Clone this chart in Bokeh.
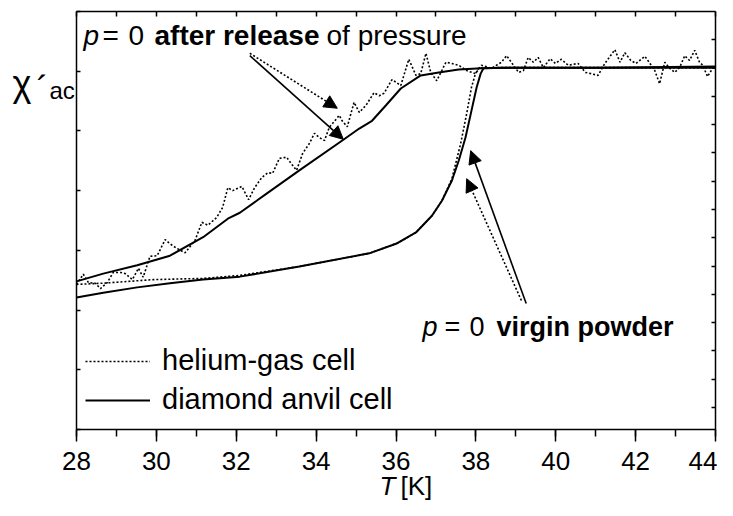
from bokeh.plotting import figure
from bokeh.models import (Range1d, LinearAxis, SingleIntervalTicker, CustomJSTickFormatter,
                          Label, Arrow, NormalHead, Legend, LegendItem)
from bokeh.embed import file_html
from bokeh.resources import INLINE

FONT = "Liberation Sans"

# ---------------- data (T in K, chi' in arbitrary units) ----------------
# p = 0 after release of pressure, diamond anvil cell (solid)
T_rel_dac = [28.0, 28.67, 29.52, 30.34, 31.17, 31.79, 32.09, 32.51, 32.76, 33.58, 34.70,
             35.08, 35.40, 35.75, 36.12, 36.62, 37.07, 37.57, 38.14, 38.82, 41.06, 44.0]
chi_rel_dac = [2.48, 2.61, 2.75, 2.91, 3.22, 3.53, 3.63, 3.83, 3.95, 4.34, 4.86,
               5.04, 5.17, 5.43, 5.71, 5.93, 5.98, 6.03, 6.05, 6.06, 6.06, 6.08]

# p = 0 after release of pressure, helium-gas cell (dotted, noisy)
T_rel_he = [28.0, 28.17, 28.30, 28.47, 28.60, 28.77, 28.92, 29.10, 29.22, 29.40, 29.55,
            29.67, 29.84, 30.02, 30.22, 30.34, 30.52, 30.72, 30.97, 31.14, 31.29, 31.51,
            31.66, 31.79, 31.91, 32.14, 32.31, 32.46, 32.64, 32.79, 32.91, 33.08, 33.26,
            33.38, 33.51, 33.66, 33.83, 33.96, 34.08, 34.21, 34.33, 34.58, 34.65, 34.78,
            34.95, 35.08, 35.25, 35.45, 35.58, 35.70, 35.90, 36.12, 36.32, 36.50, 36.62,
            36.75, 36.87, 37.02, 37.25, 37.40, 37.57, 37.77, 37.99, 38.14, 38.39, 38.64,
            38.77, 38.94, 39.07, 39.19, 39.31, 39.44, 39.56, 39.69, 39.86, 39.99, 40.14,
            40.31, 40.56, 40.74, 40.88, 41.06, 41.23, 41.48, 41.61, 41.73, 41.88, 42.01,
            42.23, 42.36, 42.48, 42.60, 42.73, 42.85, 42.98, 43.10, 43.23, 43.35, 43.48,
            43.60, 43.68, 43.80, 43.93, 44.0]
chi_rel_he = [2.43, 2.60, 2.46, 2.45, 2.36, 2.46, 2.63, 2.63, 2.61, 2.51, 2.70,
              2.55, 2.90, 2.91, 3.18, 3.11, 3.03, 2.96, 3.17, 3.47, 3.42, 3.55,
              3.72, 4.05, 4.00, 4.07, 3.85, 4.05, 4.22, 4.30, 4.29, 4.54, 4.56,
              4.45, 4.34, 4.62, 4.79, 4.96, 4.89, 4.84, 5.06, 5.26, 5.17, 5.07,
              5.48, 5.31, 5.43, 5.64, 5.59, 5.63, 5.86, 5.76, 6.20, 5.93, 5.96,
              6.30, 5.98, 5.84, 6.15, 6.13, 6.10, 6.01, 5.96, 6.10, 6.05, 6.15,
              6.26, 6.10, 5.98, 6.01, 6.23, 6.15, 6.23, 6.06, 6.21, 6.13, 6.20,
              6.10, 6.13, 5.98, 5.96, 5.93, 6.13, 6.36, 6.15, 6.31, 6.18, 6.13,
              6.25, 6.13, 6.01, 5.79, 6.15, 6.05, 5.98, 6.06, 6.26, 6.18, 6.35,
              6.15, 6.10, 5.91, 6.05, 6.06]

# p = 0 virgin powder, diamond anvil cell (solid)
T_vir_dac = [28.0, 28.67, 29.52, 30.34, 31.17, 32.09, 33.58, 35.33, 36.0, 36.50,
             36.90, 37.15, 37.40, 37.57, 37.74, 37.89, 38.02, 38.12, 38.19, 38.57, 44.0]
chi_vir_dac = [2.21, 2.29, 2.38, 2.45, 2.51, 2.56, 2.73, 2.95, 3.11, 3.30,
               3.58, 3.83, 4.17, 4.50, 4.89, 5.34, 5.73, 5.96, 6.05, 6.06, 6.06]

# p = 0 virgin powder, helium-gas cell (dotted)
T_vir_he = [28.0, 28.67, 29.92, 31.17, 32.09, 33.58, 35.33, 36.07, 36.50, 36.90, 37.15,
            37.40, 37.62, 37.77, 37.89, 37.99, 38.07, 38.57, 44.0]
chi_vir_he = [2.43, 2.45, 2.51, 2.53, 2.58, 2.73, 2.95, 3.13, 3.30, 3.58, 3.83,
              4.20, 4.79, 5.29, 5.73, 5.96, 6.05, 6.06, 6.06]

T_min, T_max, T_step = 28, 44, 2
chi_min, chi_max = 0, 7
legend_labels = ["helium-gas cell", "diamond anvil cell"]

# ---------------- layout helpers (canvas pixel -> data) ----------------
W, H = 717, 500
PX_L, PX_R, PY_T, PY_B = 76, 715, 11, 429          # where the plot box sits on the canvas
SX = (PX_R - PX_L) / (T_max - T_min)
SY = (PY_B - PY_T) / (chi_max - chi_min)
def X(px): return T_min + (px - PX_L) / SX
def Y(py): return chi_min + (PY_B - py) / SY
R_PY0, R_SY = 407, 28.3                              # right-hand tick scale
def R(py): return (R_PY0 - py) / R_SY

# ---------------- figure ----------------
p = figure(width=W, height=H, x_range=Range1d(X(0), X(W)), y_range=Range1d(Y(H), Y(0)),
           output_backend="svg", toolbar_location=None,
           x_axis_location=None, y_axis_location=None, min_border=0,
           min_border_left=0, min_border_right=0, min_border_top=0, min_border_bottom=0)
p.extra_y_ranges = {"r": Range1d(R(H), R(0))}
p.grid.visible = False
p.outline_line_color = None
p.background_fill_color = "white"
p.border_fill_color = "white"

blank = CustomJSTickFormatter(code="return ''")

xb = LinearAxis(ticker=SingleIntervalTicker(interval=T_step, num_minor_ticks=2),
                fixed_location=chi_min, bounds=(T_min, T_max),
                major_tick_in=0, major_tick_out=12, minor_tick_in=0, minor_tick_out=7,
                axis_line_width=1.5, major_tick_line_width=1.5, minor_tick_line_width=1.5,
                major_label_text_font=FONT, major_label_text_font_size="26px",
                major_label_text_color="black", major_label_standoff=10)
p.add_layout(xb, "below")

xt = LinearAxis(ticker=SingleIntervalTicker(interval=1, num_minor_ticks=0),
                fixed_location=chi_max, bounds=(T_min, T_max),
                major_tick_in=5, major_tick_out=0, axis_line_width=1.5,
                major_tick_line_width=1.5, formatter=blank,
                major_label_text_font_size="0px", major_label_standoff=0)
p.add_layout(xt, "above")

yl = LinearAxis(ticker=SingleIntervalTicker(interval=1, num_minor_ticks=0),
                fixed_location=T_min, bounds=(chi_min, chi_max),
                major_tick_in=4, major_tick_out=0, axis_line_width=1.5,
                major_tick_line_width=1.5, formatter=blank,
                major_label_text_font_size="0px", major_label_standoff=0)
p.add_layout(yl, "left")

yr = LinearAxis(y_range_name="r", ticker=SingleIntervalTicker(interval=1, num_minor_ticks=0),
                fixed_location=T_max, bounds=(R(PY_B), R(PY_T)),
                major_tick_in=4, major_tick_out=0, axis_line_width=1.5,
                major_tick_line_width=1.5, formatter=blank,
                major_label_text_font_size="0px", major_label_standoff=0)
p.add_layout(yr, "right")

# ---------------- curves ----------------
r_vir_he = p.line(T_vir_he, chi_vir_he, line_color="black", line_width=1.6, line_dash="2 2")
r_vir_dac = p.line(T_vir_dac, chi_vir_dac, line_color="black", line_width=2)
r_rel_he = p.line(T_rel_he, chi_rel_he, line_color="black", line_width=1.6, line_dash="2 2")
r_rel_dac = p.line(T_rel_dac, chi_rel_dac, line_color="black", line_width=2)

legend = Legend(items=[LegendItem(label=legend_labels[0], renderers=[r_rel_he]),
                       LegendItem(label=legend_labels[1], renderers=[r_rel_dac])],
                location=(85, 84), border_line_color=None, background_fill_alpha=0,
                label_text_font=FONT, label_text_font_size="29px", label_text_color="black",
                glyph_width=65, glyph_height=30, label_height=30, spacing=6,
                label_standoff=12, padding=0, margin=0)
p.add_layout(legend)

# ---------------- arrows ----------------
def arrow(xs, ys, xe, ye, dash):
    p.add_layout(Arrow(end=NormalHead(size=13, fill_color="black", line_color="black", line_width=1),
                       x_start=xs, y_start=ys, x_end=xe, y_end=ye,
                       line_color="black", line_width=1.6, line_dash=dash))

arrow(32.34, 6.30, 34.53, 5.38, "2 2")
arrow(32.34, 6.26, 34.68, 4.86, "solid")
arrow(39.14, 2.16, 37.77, 4.20, "2 2")
arrow(39.26, 2.11, 37.87, 4.67, "solid")

# ---------------- texts ----------------
def txt(px, py, s, size="27px", style="normal"):
    p.add_layout(Label(x=X(px), y=Y(py), text=s, text_font=FONT, text_font_size=size,
                       text_font_style=style, text_color="black", text_baseline="alphabetic"))

# top annotation
txt(83, 35, "p", "28px", "italic")
txt(102, 35, "=", "28px")
txt(128, 35, "0", "28px")
txt(154, 35, "after release", "28px", "bold")
txt(326, 35, "of pressure", "28px")

# virgin annotation
txt(422, 326, "p", "27px", "italic")
txt(444, 326, "=", "27px")
txt(469, 326, "0", "27px")
txt(496, 326, "virgin powder", "27px", "bold")

# axis labels
txt(12, 83, "\u03c7", "36px")
txt(36, 89, "\u00b4", "36px")
txt(49, 90, "ac", "24px")
txt(379, 485, "T", "26px", "italic")
txt(400, 485, "[K]", "26px")

open("out.html", "w").write(file_html(p, INLINE))
